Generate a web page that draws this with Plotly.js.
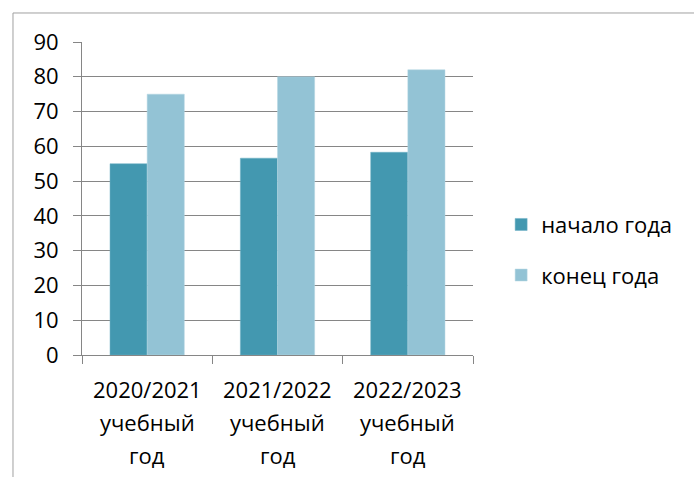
<!DOCTYPE html>
<html>
<head>
<meta charset="utf-8">
<script src="https://cdn.plot.ly/plotly-3.0.1.min.js"></script>
<style>
html,body{margin:0;padding:0;background:#fff;}
#chart{width:694px;height:477px;}
</style>
</head>
<body>
<div id="chart"></div>
<script>
const categories = ["2020/2021 учебный год", "2021/2022 учебный год", "2022/2023 учебный год"];
const seriesNames = ["начало года", "конец года"];
const startValues = [55, 56.6, 58.3];
const endValues = [75, 80, 82];
const yTicks = [0, 10, 20, 30, 40, 50, 60, 70, 80, 90];

const FONT = "Open Sans, Noto Sans, sans-serif";
const FS = 22;
const colors = ["#4398B0", "#93C3D5"];

const traces = [
  {type: "bar", name: seriesNames[0], x: categories, y: startValues,
   marker: {color: colors[0], line: {color: "#6fb0c4", width: 0.5}},
   legendgroup: "a", hoverinfo: "y"},
  {type: "bar", name: seriesNames[1], x: categories, y: endValues,
   marker: {color: colors[1], line: {color: "#b4d7e3", width: 0.5}},
   legendgroup: "b", hoverinfo: "y"}
];

// Multi-line category labels drawn as annotations (wide line spacing like the original)
const annotations = [];
categories.forEach(cat => {
  const lines = cat.split(" ");
  lines.forEach((ln, i) => {
    annotations.push({
      x: cat, y: 0, xref: "x", yref: "y",
      text: ln, showarrow: false,
      yanchor: "middle", xanchor: "center",
      yshift: -34 - i * 33,
      font: {family: FONT, size: FS, color: "#000"}
    });
  });
});

const layout = {
  width: 694, height: 477,
  margin: {l: 82, r: 221, t: 42, b: 122, pad: 0},
  paper_bgcolor: "#fff", plot_bgcolor: "#fff",
  barmode: "group", bargap: 0.43, bargroupgap: 0,
  font: {family: FONT, size: FS, color: "#000"},
  xaxis: {
    type: "category", showticklabels: false,
    showline: true, linecolor: "#868686", linewidth: 1,
    ticks: "outside", tickson: "boundaries", ticklen: 8, tickcolor: "#868686",
    showgrid: false, zeroline: false, fixedrange: true
  },
  yaxis: {
    range: [0, 90], tickvals: yTicks, ticktext: yTicks.map(String),
    showline: true, linecolor: "#868686", linewidth: 1,
    ticks: "outside", ticklen: 8, tickcolor: "#868686",
    showgrid: true, gridcolor: "#868686", gridwidth: 1,
    zeroline: false, ticklabelstandoff: 10,
    tickfont: {family: FONT, size: FS, color: "#000"}, fixedrange: true
  },
  showlegend: true,
  legend: {
    x: 1.072, y: 0.335, xanchor: "left", yanchor: "middle",
    traceorder: "grouped", tracegroupgap: 19,
    font: {family: FONT, size: FS, color: "#000"},
    bgcolor: "rgba(0,0,0,0)", itemwidth: 30
  },
  annotations: annotations,
  shapes: [{
    type: "rect", xref: "paper", yref: "paper",
    x0: -0.1765, x1: 1.9, y0: -0.45, y1: 1.0927,
    line: {color: "#A0A0A0", width: 1}, fillcolor: "rgba(0,0,0,0)", layer: "below"
  }]
};

Plotly.newPlot("chart", traces, layout, {displayModeBar: false, staticPlot: true});
</script>
</body>
</html>
